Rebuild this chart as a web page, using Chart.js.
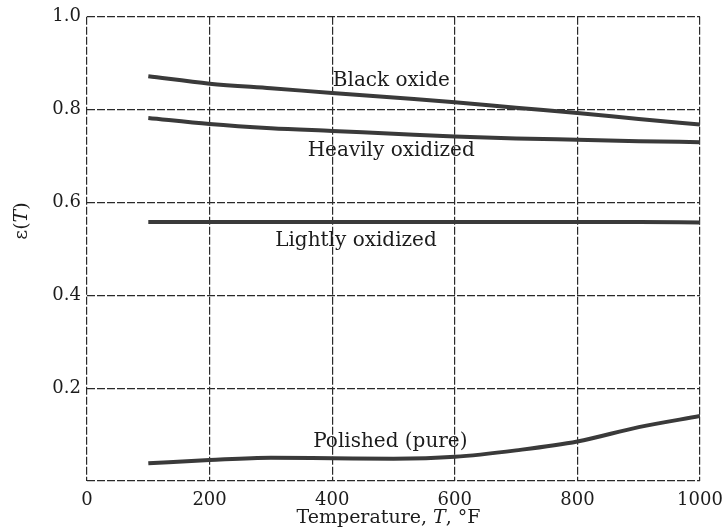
<!DOCTYPE html>
<html>
<head>
<meta charset="utf-8">
<title>Emissivity vs temperature</title>
<script src="https://cdn.jsdelivr.net/npm/chart.js@4.4.0/dist/chart.umd.min.js"></script>
<style>
    html, body { margin: 0; padding: 0; background: #fff; }
    #wrap { width: 727px; height: 529px; }
</style>
</head>
<body>
<div id="wrap"><canvas id="emissivityChart" width="727" height="529"></canvas></div>
<script>
// Temperatures (°F) where each curve is sampled
const temperatures = [100, 200, 300, 400, 500, 600, 700, 800, 900, 1000];

// Emissivity for each surface condition
const blackOxide       = [0.872, 0.856, 0.846, 0.836, 0.826, 0.816, 0.804, 0.793, 0.780, 0.768];
const heavilyOxidized  = [0.782, 0.769, 0.760, 0.754, 0.748, 0.742, 0.738, 0.735, 0.732, 0.730];
const lightlyOxidized  = [0.558, 0.558, 0.558, 0.558, 0.558, 0.558, 0.558, 0.558, 0.558, 0.557];
const polishedPure     = [0.038, 0.045, 0.050, 0.049, 0.048, 0.052, 0.066, 0.085, 0.116, 0.140];

// Tick labels
const xTickLabels = ['0', '200', '400', '600', '800', '1000'];
const yTickLabels = ['', '0.2', '0.4', '0.6', '0.8', '1.0'];

// Curve names, placed at (T, ε) where the text starts
const curveLabels = [
    { text: 'Black oxide', t: 401, e: 0.862 },
    { text: 'Heavily oxidized', t: 360, e: 0.712 },
    { text: 'Lightly oxidized', t: 307, e: 0.518 },
    { text: 'Polished (pure)', t: 369, e: 0.085 }
];

const FONT = "'DejaVu Serif', serif";
const INK = '#1c1c1c';

function toPoints(values) {
    return values.map((v, i) => ({ x: temperatures[i], y: v }));
}

function curve(values) {
    return {
        data: toPoints(values),
        borderColor: '#3a3a3a',
        borderWidth: 4,
        pointRadius: 0,
        fill: false,
        cubicInterpolationMode: 'monotone'
    };
}

// Draw a run of text pieces, some italic, centred on x
function drawRich(ctx, parts, x, y, size) {
    let total = 0;
    parts.forEach(p => {
        ctx.font = (p.italic ? 'italic ' : '') + size + 'px ' + FONT;
        p.w = ctx.measureText(p.text).width;
        total += p.w;
    });
    let cx = x - total / 2;
    parts.forEach(p => {
        ctx.font = (p.italic ? 'italic ' : '') + size + 'px ' + FONT;
        ctx.fillText(p.text, cx, y);
        cx += p.w;
    });
}

const textPlugin = {
    id: 'textPlugin',
    afterDraw(chart) {
        const ctx = chart.ctx;
        const xs = chart.scales.x;
        const ys = chart.scales.y;
        ctx.save();
        ctx.fillStyle = INK;
        ctx.textBaseline = 'middle';
        ctx.textAlign = 'left';

        // names next to each curve
        ctx.font = '20px ' + FONT;
        curveLabels.forEach(l => {
            ctx.fillText(l.text, xs.getPixelForValue(l.t), ys.getPixelForValue(l.e));
        });

        // x axis title
        drawRich(ctx, [
            { text: 'Temperature, ' },
            { text: 'T', italic: true },
            { text: ', °F' }
        ], (chart.chartArea.left + chart.chartArea.right) / 2 - 5, 518, 19);

        // y axis title, rotated
        ctx.translate(22, 221);
        ctx.rotate(-Math.PI / 2);
        drawRich(ctx, [
            { text: 'ε(' },
            { text: 'T', italic: true },
            { text: ')' }
        ], 0, 0, 19);
        ctx.restore();
    }
};

const gridStyle = {
    color: '#2a2a2a',
    lineWidth: 1.2,
    drawTicks: false
};

new Chart(document.getElementById('emissivityChart'), {
    type: 'line',
    data: {
        datasets: [
            curve(blackOxide),
            curve(heavilyOxidized),
            curve(lightlyOxidized),
            curve(polishedPure)
        ]
    },
    options: {
        responsive: false,
        animation: false,
        devicePixelRatio: 1,
        layout: { padding: { left: 0, top: 16, right: 27, bottom: 0 } },
        plugins: {
            legend: { display: false },
            tooltip: { enabled: false }
        },
        scales: {
            x: {
                type: 'linear',
                min: 0,
                max: 1000,
                grid: gridStyle,
                border: { display: false, dash: [8, 2] },
                ticks: {
                    stepSize: 200,
                    padding: 9,
                    color: INK,
                    font: { family: FONT, size: 18 },
                    maxRotation: 0,
                    callback: (value, index) => xTickLabels[index]
                },
                afterFit: s => {
                    s.height = 48;
                    s.paddingLeft = 0;
                    s.paddingRight = 0;
                }
            },
            y: {
                type: 'linear',
                min: 0,
                max: 1,
                grid: gridStyle,
                border: { display: false, dash: [8, 2] },
                ticks: {
                    stepSize: 0.2,
                    padding: 6,
                    color: INK,
                    font: { family: FONT, size: 18 },
                    callback: (value, index) => yTickLabels[index]
                },
                afterFit: s => { s.width = 87; }
            }
        }
    },
    plugins: [textPlugin]
});
</script>
</body>
</html>
